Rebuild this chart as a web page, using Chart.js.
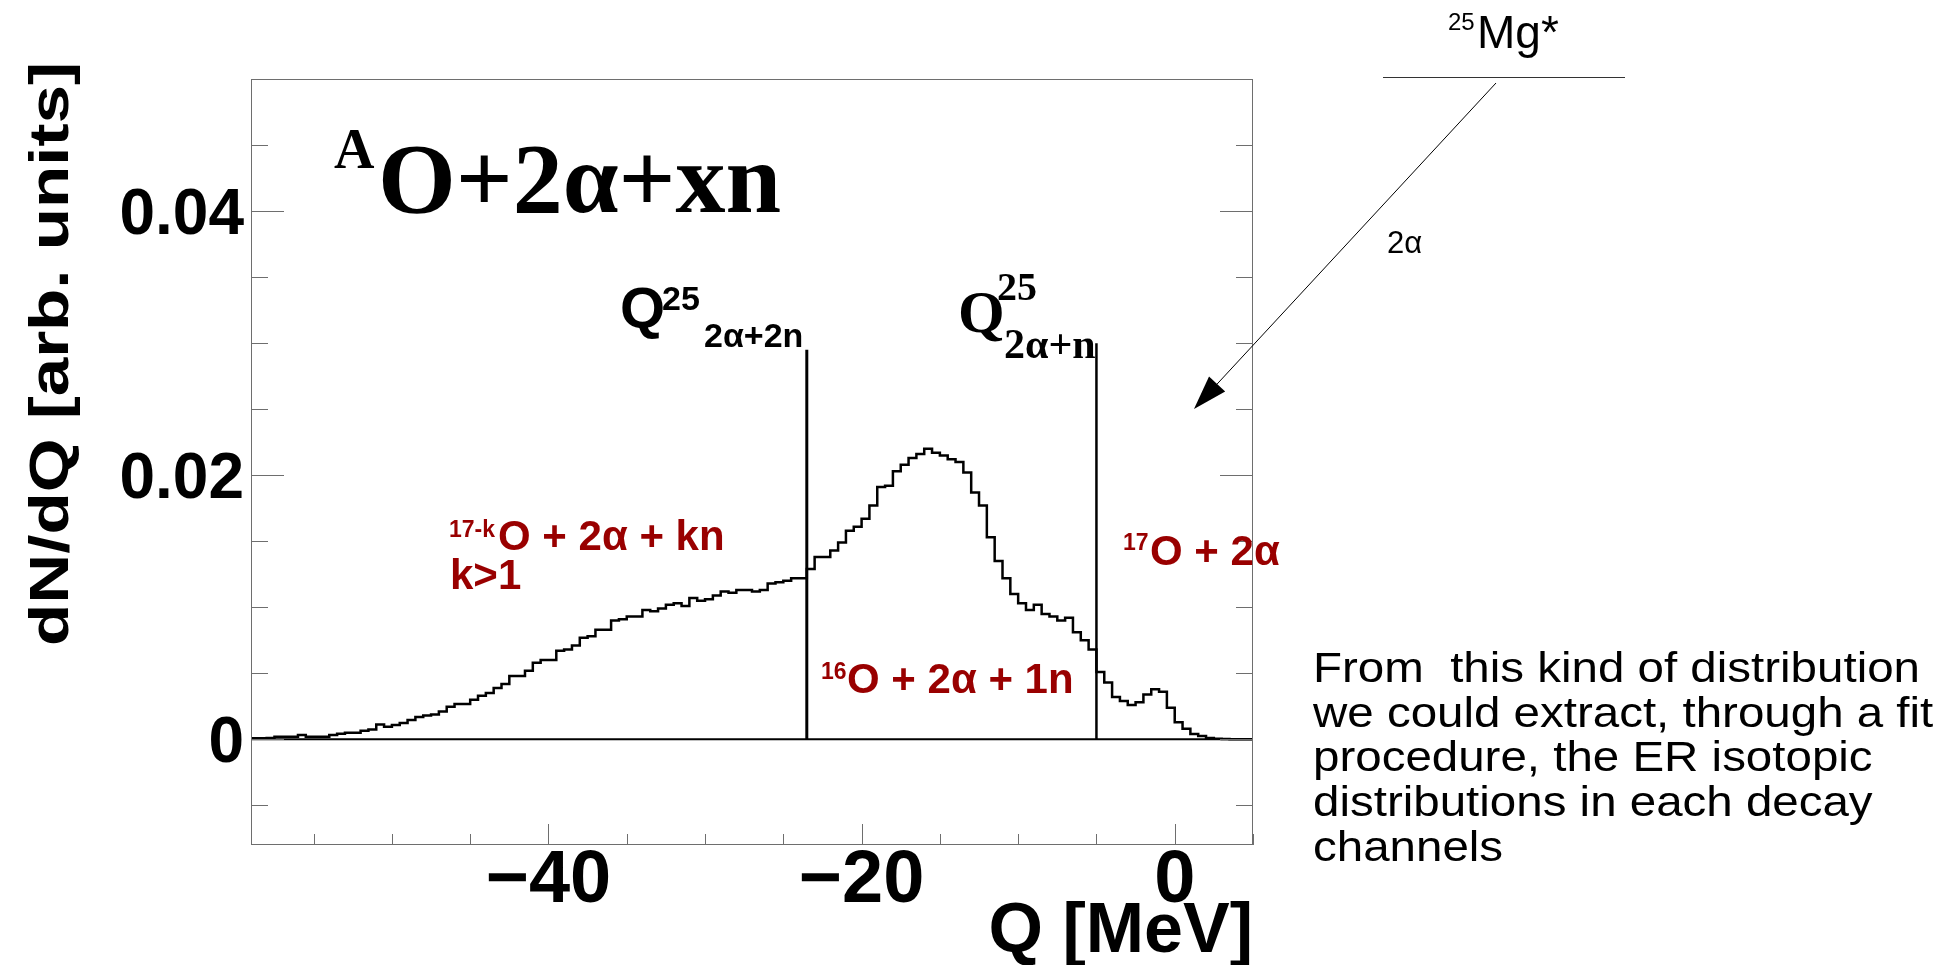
<!DOCTYPE html>
<html>
<head>
<meta charset="utf-8">
<title>Q distribution</title>
<script src="https://cdn.jsdelivr.net/npm/chart.js@4.4.1/dist/chart.umd.min.js"></script>
<style>
  html, body { margin: 0; padding: 0; background: #ffffff; }
  #qChart { display: block; }
</style>
</head>
<body>
<canvas id="qChart" width="1957" height="965"></canvas>
<script>
// Q histogram, 0.5 MeV bins from -59 to 5 MeV
const qMin = -59;
const qMax = 5;
const binWidth = 0.5;
const counts = [
    0.00002, 0.00008, 0.00008, 0.00010, 0.00020, 0.00020, 0.00020, 0.00032,
    0.00020, 0.00020, 0.00020, 0.00032, 0.00042, 0.00050, 0.00050, 0.00065,
    0.00075, 0.00113, 0.00095, 0.00108, 0.00123, 0.00146, 0.00170, 0.00180,
    0.00189, 0.00210, 0.00247, 0.00268, 0.00268, 0.00300, 0.00330, 0.00350,
    0.00388, 0.00420, 0.00480, 0.00480, 0.00520, 0.00580, 0.00600, 0.00600,
    0.00670, 0.00680, 0.00710, 0.00770, 0.00780, 0.00830, 0.00830, 0.00900,
    0.00910, 0.00930, 0.00930, 0.00980, 0.00970, 0.00990, 0.01020, 0.01030,
    0.01010, 0.01070, 0.01050, 0.01060, 0.01090, 0.01120, 0.01110, 0.01130,
    0.01130, 0.01120, 0.01130, 0.01180, 0.01190, 0.01200, 0.01220, 0.01220,
    0.01290, 0.01380, 0.01380, 0.01430, 0.01490, 0.01580, 0.01610, 0.01670,
    0.01770, 0.01910, 0.01920, 0.02030, 0.02080, 0.02130, 0.02160, 0.02200,
    0.02170, 0.02150, 0.02120, 0.02100, 0.02020, 0.01870, 0.01770, 0.01530,
    0.01350, 0.01220, 0.01100, 0.01030, 0.00980, 0.01020, 0.00950, 0.00930,
    0.00900, 0.00920, 0.00810, 0.00750, 0.00680, 0.00510, 0.00430, 0.00320,
    0.00290, 0.00260, 0.00280, 0.00340, 0.00380, 0.00360, 0.00240, 0.00130,
    0.00080, 0.00040, 0.00025, 0.00010, 0.00005, 0.00002, 0.00000, 0.00000
];

// axis ranges and ticks
const yMin = -0.008;
const yMax = 0.05;
const xMajorTicks = [-40, -20, 0];
const xTickLabels = ['\u221240', '\u221220', '0'];
const xMinorStep = 5;
const yMajorTicks = [0, 0.02, 0.04];
const yTickLabels = ['0', '0.02', '0.04'];
const yMinorStep = 0.005;

// Q thresholds of 25Mg* (2a+2n and 2a+n) and the height of their markers
const thresholdQ = [-23.5, -5];
const thresholdTop = [0.0295, 0.0300];

const red = '#990000';
const sans = "'Liberation Sans', Arial, sans-serif";
const serif = "'Liberation Serif', 'Times New Roman', serif";

// step points at the bin left edges, plus the closing right edge
function histogramPoints() {
    const pts = counts.map((c, i) => ({ x: qMin + i * binWidth, y: c }));
    pts.push({ x: qMax, y: counts[counts.length - 1] });
    return pts;
}

function txt(ctx, str, x, y, font, color, align) {
    ctx.font = font;
    ctx.fillStyle = color || '#000';
    ctx.textAlign = align || 'left';
    ctx.textBaseline = 'alphabetic';
    ctx.fillText(str, x, y);
}

// text squeezed/stretched horizontally to a given width
function txtWidth(ctx, str, x, y, font, width) {
    ctx.save();
    ctx.font = font;
    const w = ctx.measureText(str).width;
    ctx.translate(x, y);
    ctx.scale(width / w, 1);
    ctx.fillStyle = '#000';
    ctx.textAlign = 'left';
    ctx.textBaseline = 'alphabetic';
    ctx.fillText(str, 0, 0);
    ctx.restore();
    return width / w;
}

const rootStyle = {
    id: 'rootStyle',
    afterDatasetsDraw(chart) {
        const ctx = chart.ctx;
        const xs = chart.scales.x;
        const ys = chart.scales.y;
        const a = chart.chartArea;
        ctx.save();

        // frame
        ctx.strokeStyle = '#6e6e6e';
        ctx.lineWidth = 1;
        ctx.strokeRect(a.left + 0.5, a.top + 0.5, a.right - a.left - 1, a.bottom - a.top - 1);

        // y ticks, both sides
        ctx.beginPath();
        for (let i = Math.ceil(yMin / yMinorStep); i * yMinorStep <= yMax + 1e-9; i++) {
            const v = i * yMinorStep;
            const major = yMajorTicks.some(m => Math.abs(m - v) < 1e-9);
            const len = major ? 33 : 17;
            const py = Math.round(ys.getPixelForValue(v)) + 0.5;
            ctx.moveTo(a.left, py);
            ctx.lineTo(a.left + len, py);
            ctx.moveTo(a.right, py);
            ctx.lineTo(a.right - len, py);
        }
        // x ticks, bottom only
        for (let i = Math.ceil(qMin / xMinorStep); i * xMinorStep <= qMax; i++) {
            const v = i * xMinorStep;
            const major = xMajorTicks.includes(v);
            const len = major ? 21 : 11;
            const px = Math.round(xs.getPixelForValue(v)) + 0.5;
            ctx.moveTo(px, a.bottom);
            ctx.lineTo(px, a.bottom - len);
        }
        ctx.stroke();

        // tick labels
        yMajorTicks.forEach((v, i) => {
            txt(ctx, yTickLabels[i], 244, ys.getPixelForValue(v) + 23, 'bold 64px ' + sans, '#000', 'right');
        });
        xMajorTicks.forEach((v, i) => {
            txt(ctx, xTickLabels[i], xs.getPixelForValue(v), 902, 'bold 74px ' + sans, '#000', 'center');
        });

        // axis titles
        txt(ctx, 'Q [MeV]', a.right, 952, 'bold 70px ' + sans, '#000', 'right');
        ctx.save();
        ctx.translate(68, 646);
        ctx.rotate(-Math.PI / 2);
        txtWidth(ctx, 'dN/dQ [arb. units]', 0, 0, 'bold 56px ' + sans, 584);
        ctx.restore();

        // big label
        txt(ctx, 'A', 334, 168, 'bold 56px ' + serif);
        txt(ctx, 'O+2\u03b1+xn', 378, 212, 'bold 100px ' + serif);

        // threshold labels
        txt(ctx, 'Q', 620, 328, 'bold 58px ' + sans);
        txt(ctx, '25', 662, 310, 'bold 34px ' + sans);
        txt(ctx, '2\u03b1+2n', 704, 347, 'bold 34px ' + sans);

        txt(ctx, 'Q', 958, 332, 'bold 60px ' + serif);
        txt(ctx, '25', 997, 300, 'bold 40px ' + serif);
        txt(ctx, '2\u03b1+n', 1004, 358, 'bold 42px ' + serif);

        // channel labels
        txt(ctx, '17-k', 449, 537, 'bold 23px ' + sans, red);
        txt(ctx, 'O + 2\u03b1 + kn', 498, 550, 'bold 42px ' + sans, red);
        txt(ctx, 'k>1', 450, 589, 'bold 42px ' + sans, red);
        txt(ctx, '16', 821, 679, 'bold 23px ' + sans, red);
        txt(ctx, 'O + 2\u03b1 + 1n', 847, 693, 'bold 42px ' + sans, red);
        txt(ctx, '17', 1123, 550, 'bold 23px ' + sans, red);
        txt(ctx, 'O + 2\u03b1', 1150, 565, 'bold 42px ' + sans, red);

        ctx.restore();
    },
    afterDraw(chart) {
        const ctx = chart.ctx;
        ctx.save();

        // decay scheme sketch on the right
        txt(ctx, '25', 1448, 30, '24px ' + sans);
        txt(ctx, 'Mg*', 1477, 48, '46px ' + sans);
        ctx.strokeStyle = '#333';
        ctx.lineWidth = 1;
        ctx.beginPath();
        ctx.moveTo(1383, 77.5);
        ctx.lineTo(1625, 77.5);
        ctx.stroke();

        const from = { x: 1496, y: 83 };
        const tip = { x: 1194, y: 409 };
        const dx = from.x - tip.x;
        const dy = from.y - tip.y;
        const len = Math.sqrt(dx * dx + dy * dy);
        const ux = dx / len, uy = dy / len;
        const headLen = 34, headHalf = 11;
        ctx.strokeStyle = '#000';
        ctx.beginPath();
        ctx.moveTo(from.x, from.y);
        ctx.lineTo(tip.x + ux * headLen, tip.y + uy * headLen);
        ctx.stroke();
        ctx.fillStyle = '#000';
        ctx.beginPath();
        ctx.moveTo(tip.x, tip.y);
        ctx.lineTo(tip.x + ux * headLen - uy * headHalf, tip.y + uy * headLen + ux * headHalf);
        ctx.lineTo(tip.x + ux * headLen + uy * headHalf, tip.y + uy * headLen - ux * headHalf);
        ctx.closePath();
        ctx.fill();
        txt(ctx, '2\u03b1', 1387, 253, '31px ' + sans);

        // comment text
        const lines = [
            'From  this kind of distribution',
            'we could extract, through a fit',
            'procedure, the ER isotopic',
            'distributions in each decay',
            'channels'
        ];
        ctx.font = '43px ' + sans;
        const k = 607 / ctx.measureText(lines[0]).width;
        lines.forEach((line, i) => {
            ctx.save();
            ctx.translate(1313, 682 + i * 44.7);
            ctx.scale(k, 1);
            txt(ctx, line, 0, 0, '43px ' + sans);
            ctx.restore();
        });

        ctx.restore();
    }
};

const ctx = document.getElementById('qChart').getContext('2d');
ctx.fillStyle = '#fff';

new Chart(ctx, {
    type: 'line',
    data: {
        datasets: [
            {
                label: 'zero',
                data: [{ x: qMin, y: 0 }, { x: qMax, y: 0 }],
                borderColor: '#000',
                borderWidth: 2
            },
            {
                label: 'dN/dQ',
                data: histogramPoints(),
                stepped: 'after',
                borderColor: '#000',
                borderWidth: 2.5
            },
            {
                label: 'Q 2a+2n',
                data: [{ x: thresholdQ[0], y: 0 }, { x: thresholdQ[0], y: thresholdTop[0] }],
                borderColor: '#000',
                borderWidth: 3
            },
            {
                label: 'Q 2a+n',
                data: [{ x: thresholdQ[1], y: 0 }, { x: thresholdQ[1], y: thresholdTop[1] }],
                borderColor: '#000',
                borderWidth: 2.5
            }
        ]
    },
    options: {
        responsive: false,
        animation: false,
        devicePixelRatio: 1,
        layout: { padding: { left: 251, top: 79, right: 704, bottom: 120 } },
        elements: { point: { radius: 0 }, line: { tension: 0, fill: false } },
        plugins: { legend: { display: false }, tooltip: { enabled: false } },
        scales: {
            x: { type: 'linear', min: qMin, max: qMax, display: false },
            y: { type: 'linear', min: yMin, max: yMax, display: false }
        }
    },
    plugins: [rootStyle]
});
</script>
</body>
</html>
